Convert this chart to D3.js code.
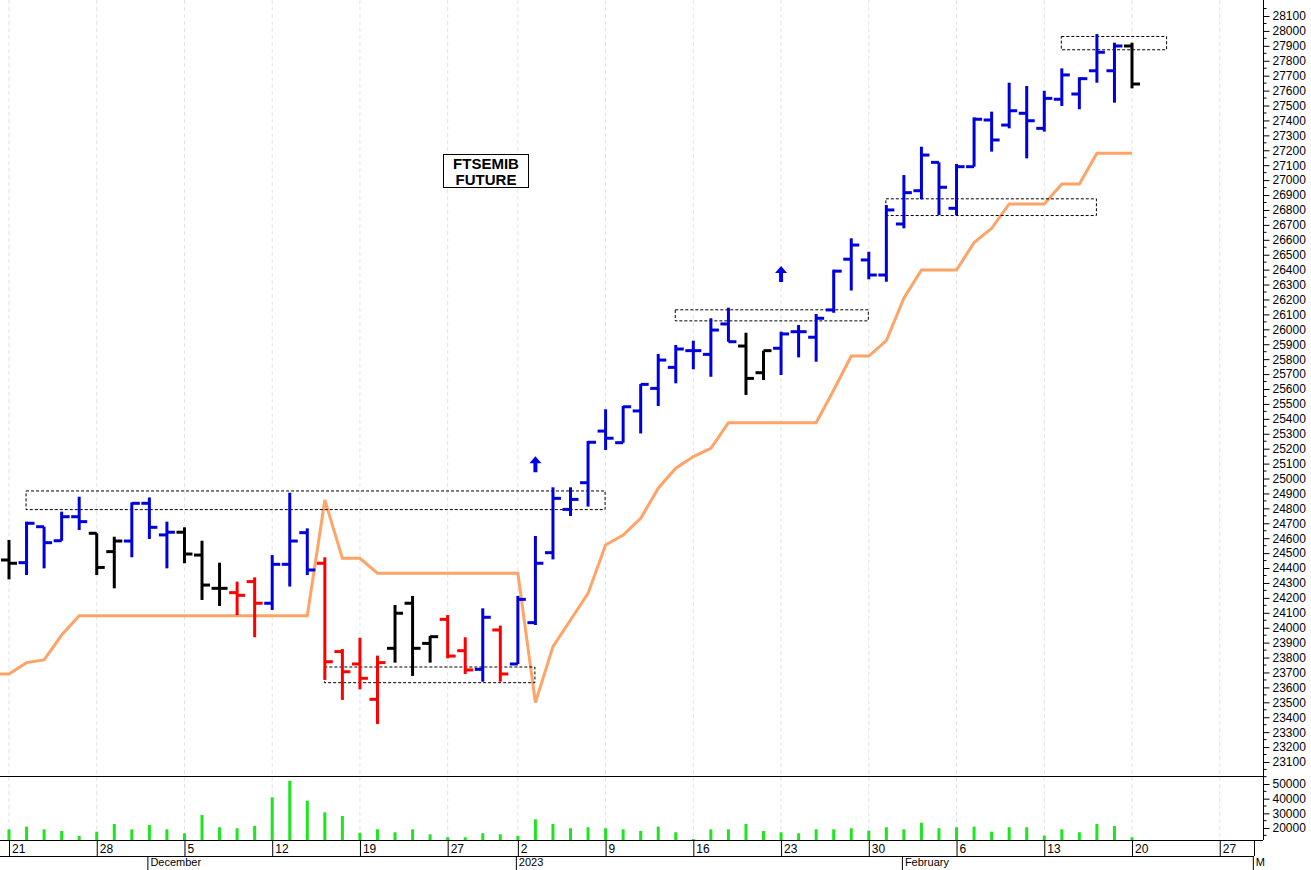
<!DOCTYPE html>
<html>
<head>
<meta charset="utf-8">
<script src="https://cdn.jsdelivr.net/npm/d3@7"></script>
<style>
  body { margin: 0; background: #fff; }
  svg { display: block; font-family: "Liberation Sans", Arial, sans-serif; }
</style>
</head>
<body>
<svg id="chart" width="1311" height="870"></svg>
<script>
// bar index 0 = 18 Nov 2022, 65 = 20 Feb 2023 (trading days only)
const opens  = [24450,24454,24436,24677,24583,24744,24633,24510,24581,24834,24622,24640,24487,24264,24235,24309,24164,24425,24637,24432,23840,23757,23520,23862,24164,23895,24056,23846,23721,23985,23757,24034,24503,24793,24972,25318,25240,25453,25604,25745,25857,25832,26036,25888,25709,25873,25984,25947,26130,26470,26465,26364,26706,26929,27119,26811,27090,27403,27369,27448,27347,27542,27577,27733,27733,27899]
const highs  = [24650,24588,24711,24677,24778,24878,24633,24610,24840,24873,24711,24673,24583,24436,24309,24338,24487,24905,24666,24472,23857,23933,23813,24152,24213,23945,24085,23936,24130,24014,24213,24615,24941,24941,25252,25464,25486,25633,25835,25895,25924,26074,26145,25977,25857,25984,26029,26103,26400,26610,26520,26833,27034,27224,27119,27108,27421,27459,27653,27631,27599,27749,27689,27979,27921,27921]
const lows   = [24400,24324,24353,24398,24583,24655,24353,24264,24472,24595,24398,24432,24186,24146,24085,23936,24119,24276,24353,23650,23516,23587,23355,23766,23677,23766,23795,23690,23638,23638,23757,24018,24458,24749,24812,25191,25240,25302,25486,25638,25732,25682,25917,25560,25660,25694,25812,25783,26111,26260,26335,26319,26677,26871,26766,26766,27090,27191,27347,27146,27325,27497,27475,27653,27519,27615]
const closes = [24577,24432,24700,24570,24744,24711,24404,24581,24834,24673,24640,24494,24286,24264,24217,24164,24425,24581,24387,23772,23705,23661,23766,24097,23862,23940,23810,23717,24070,23690,24190,24432,24867,24860,25243,25270,25481,25631,25794,25868,25857,25995,25917,25671,25857,25969,25984,26074,26390,26565,26364,26800,26916,27168,26952,27090,27408,27269,27465,27398,27548,27705,27680,27857,27899,27644]
// b = blue, k = black, r = red
const barColors = "bkbbbbkkbbbkkkrrbbbrrrrkkkrrbrbbbbbbbbbbbbbkkbbbbbbbbbbbbbbbbbbbbk".split("")
const stopLine = [23690,23690,23766,23784,23951,24080,24080,24080,24080,24080,24080,24080,24080,24080,24080,24080,24080,24080,24080,24856,24465,24465,24365,24365,24365,24365,24365,24365,24365,24365,24365,23498,23873,24052,24230,24555,24621,24733,24935,25069,25147,25203,25374,25374,25374,25374,25374,25374,25593,25821,25821,25924,26208,26398,26398,26398,26581,26677,26840,26840,26840,26974,26974,27180,27180,27180]
const volumes = [19000,19100,20900,19100,17950,14550,17500,22700,19100,22000,19100,16400,28900,20500,19800,21400,40900,52200,38600,30700,28200,16800,19100,17100,19100,15700,13700,13700,16400,15700,14550,25900,22700,19800,20500,19800,19100,17950,20900,17100,12500,19100,19100,22700,17950,17100,16400,19100,19100,19800,18200,20500,19100,23600,19800,20500,20900,17500,20500,20500,14800,19100,17100,22700,21400,13700]

// date axis: week labels and month labels (bar index, text)
const weekIdx = [1,6,11,16,21,26,30,35,40,45,50,55,60,65,70]
const weekLabels = ["21","28","5","12","19","27","2","9","16","23","30","6","13","20","27"]
const monthIdx = [9,30,52,72]
const monthLabels = ["December","2023","February","M"]

// dashed boxes: [first bar, last bar, top price, bottom price]
const boxes = [[2,35,24920,24795],[19,31,23740,23635],[39,50,26134,26060],[51,63,26878,26766],[61,67,27966,27877]]
// signal arrows: [bar, tip price]
const arrows = [[31,25150],[45,26425]]

const colorMap = { b: "#0000dd", k: "#000000", r: "#ff0000" }

const svg = d3.select("#chart")
const axisX = 1263

const x = d3.scaleLinear().domain([1, 65]).range([9, 1132])
const y = d3.scaleLinear().domain([23100, 28100]).range([762, 16])
const yv = d3.scaleLinear().domain([20000, 50000]).range([828, 784])

// vertical grid lines
svg.append("g").selectAll("line").data(weekIdx).join("line")
  .attr("x1", d => x(d)).attr("x2", d => x(d))
  .attr("y1", 0).attr("y2", 840)
  .attr("stroke", "#e2e2ea").attr("stroke-dasharray", "4,3")

// orange stop line
svg.append("path").datum(stopLine)
  .attr("fill", "none").attr("stroke", "#ffa366").attr("stroke-width", 3)
  .attr("d", d3.line().x((d, i) => x(i)).y(d => y(d)))

// dashed boxes
svg.append("g").selectAll("rect").data(boxes).join("rect")
  .attr("x", d => x(d[0]) - 0.5).attr("width", d => x(d[1]) - x(d[0]))
  .attr("y", d => y(d[2]) + 0.5).attr("height", d => y(d[3]) - y(d[2]))
  .attr("fill", "none").attr("stroke", "#000").attr("stroke-dasharray", "3,2")

// OHLC bars
const bars = svg.append("g").selectAll("g").data(opens).join("g")
  .attr("stroke", (d, i) => colorMap[barColors[i]]).attr("stroke-width", 3)
bars.append("line")
  .attr("x1", (d, i) => x(i)).attr("x2", (d, i) => x(i))
  .attr("y1", (d, i) => y(highs[i])).attr("y2", (d, i) => y(lows[i]))
bars.append("line")
  .attr("x1", (d, i) => x(i) - 8).attr("x2", (d, i) => x(i))
  .attr("y1", d => y(d)).attr("y2", d => y(d))
bars.append("line")
  .attr("x1", (d, i) => x(i)).attr("x2", (d, i) => x(i) + 8)
  .attr("y1", (d, i) => y(closes[i])).attr("y2", (d, i) => y(closes[i]))

// arrows
svg.append("g").selectAll("path").data(arrows).join("path")
  .attr("transform", d => "translate(" + x(d[0]) + "," + y(d[1]) + ")")
  .attr("d", "M0,0 L6,7 L2,7 L2,16 L-2,16 L-2,7 L-6,7 Z")
  .attr("fill", "#0000ee")

// title box
svg.append("rect").attr("x", 443.5).attr("y", 154.5).attr("width", 85).attr("height", 33)
  .attr("fill", "#fff").attr("stroke", "#000")
svg.append("text").attr("x", 486).attr("y", 169).attr("text-anchor", "middle")
  .attr("font-weight", "bold").attr("font-size", 15).text("FTSEMIB")
svg.append("text").attr("x", 486).attr("y", 185).attr("text-anchor", "middle")
  .attr("font-weight", "bold").attr("font-size", 15).text("FUTURE")

// volume bars
svg.append("g").selectAll("rect").data(volumes).join("rect")
  .attr("x", (d, i) => x(i) - 1.5).attr("width", 3)
  .attr("y", d => yv(d)).attr("height", d => 840 - yv(d))
  .attr("fill", "#1ee61e")

// frame lines
const frame = svg.append("g").attr("stroke", "#000")
frame.append("line").attr("x1", 0).attr("x2", axisX).attr("y1", 776.5).attr("y2", 776.5)
frame.append("line").attr("x1", 0).attr("x2", axisX).attr("y1", 840.5).attr("y2", 840.5)
frame.append("line").attr("x1", 0).attr("x2", 1254).attr("y1", 856.5).attr("y2", 856.5)
frame.append("line").attr("x1", axisX + 0.5).attr("x2", axisX + 0.5).attr("y1", 0).attr("y2", 840)

// price axis
const priceAxis = svg.append("g").attr("transform", "translate(" + (axisX + 0.5) + ",0)")
  .call(d3.axisRight(y).tickValues(d3.range(23100, 28101, 100)).tickSize(6).tickPadding(3).tickFormat(d3.format("d")))
priceAxis.append("g").selectAll("line").data(d3.range(23050, 28250, 100)).join("line")
  .attr("x1", 0).attr("x2", 3).attr("y1", d => y(d)).attr("y2", d => y(d)).attr("stroke", "#000")
priceAxis.select(".domain").remove()
priceAxis.selectAll("text").attr("font-size", 12).attr("font-family", "Liberation Sans, Arial").attr("fill", "#000")

// volume axis
const volAxis = svg.append("g").attr("transform", "translate(" + (axisX + 0.5) + ",0)")
  .call(d3.axisRight(yv).tickValues([20000, 30000, 40000, 50000]).tickSize(6).tickPadding(3).tickFormat(d3.format("d")))
volAxis.append("g").selectAll("line").data([15000, 25000, 35000, 45000, 55000]).join("line")
  .attr("x1", 0).attr("x2", 3).attr("y1", d => yv(d)).attr("y2", d => yv(d)).attr("stroke", "#000")
volAxis.select(".domain").remove()
volAxis.selectAll("text").attr("font-size", 12).attr("font-family", "Liberation Sans, Arial").attr("fill", "#000")

// date row
const dates = svg.append("g")
dates.selectAll("line").data(weekIdx).join("line")
  .attr("x1", d => x(d) + 0.5).attr("x2", d => x(d) + 0.5).attr("y1", 840).attr("y2", 856)
  .attr("stroke", "#000")
dates.selectAll("text").data(weekLabels).join("text")
  .attr("x", (d, i) => x(weekIdx[i]) + 3).attr("y", 853)
  .attr("font-size", 12).text(d => d)
dates.append("line").attr("x1", 1254.5).attr("x2", 1254.5).attr("y1", 840).attr("y2", 856).attr("stroke", "#000")

const months = svg.append("g")
months.selectAll("line").data(monthIdx).join("line")
  .attr("x1", d => x(d) - 1.5).attr("x2", d => x(d) - 1.5).attr("y1", 856).attr("y2", 870)
  .attr("stroke", "#000")
months.selectAll("text").data(monthLabels).join("text")
  .attr("x", (d, i) => x(monthIdx[i]) + 1).attr("y", 866)
  .attr("font-size", 11).text(d => d)
</script>
</body>
</html>
